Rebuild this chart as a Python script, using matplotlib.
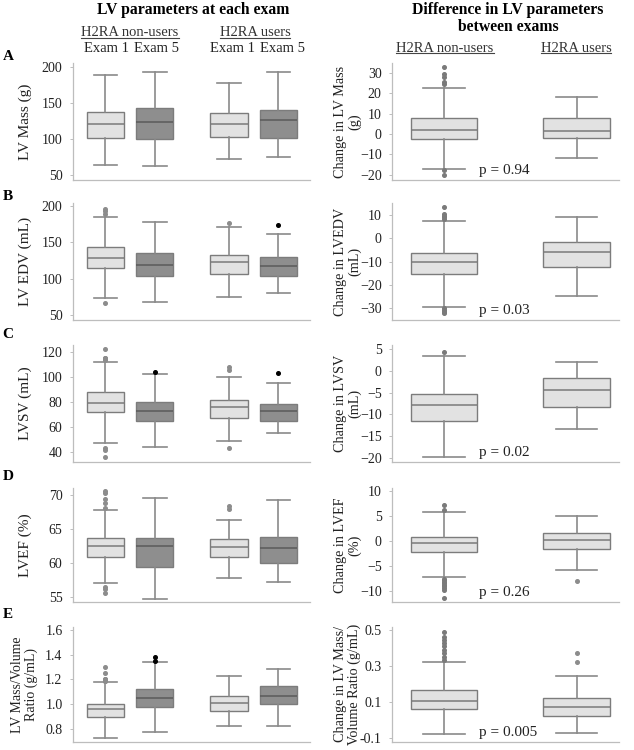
import matplotlib
matplotlib.use("Agg")
import matplotlib.pyplot as plt
from matplotlib.lines import Line2D

plt.rcParams['font.family'] = ['Liberation Serif', 'DejaVu Serif']

# ---- data ----
letters = ["A", "B", "C", "D", "E"]
left_ylabels = ["LV Mass (g)", "LV EDV (mL)", "LVSV (mL)", "LVEF (%)",
                "LV Mass/Volume\nRatio (g/mL)"]
right_ylabels = ["Change in LV Mass\n(g)", "Change in LVEDV\n(mL)",
                 "Change in LVSV\n(mL)", "Change in LVEF\n(%)",
                 "Change in LV Mass/\nVolume Ratio (g/mL)"]
p_values = ["p = 0.94", "p = 0.03", "p = 0.02", "p = 0.26", "p = 0.005"]

# left panels: non-users exam 1, non-users exam 5, users exam 1, users exam 5
massL_lo = [63, 62, 72, 75]
massL_q1 = [101, 100, 102, 101]
massL_med = [120, 123.5, 121, 125.5]
massL_q3 = [137.5, 143, 135, 140]
massL_hi = [189, 193, 177, 193]
massL_fl = [[], [], [], []]

edvL_lo = [74, 67.4, 75.2, 80.7]
edvL_q1 = [114.2, 103.7, 106.4, 103.7]
edvL_med = [128, 118.8, 123.4, 117.4]
edvL_q3 = [143.1, 134.9, 132.6, 130.3]
edvL_hi = [185.3, 177.5, 170.6, 161]
edvL_fl = [[195.4, 193.1, 188.5, 67], [], [176.1], [173.9]]

svL_lo = [46.7, 44, 48.3, 55.3]
svL_q1 = [71.6, 64.9, 67, 64.9]
svL_med = [79.3, 72.6, 75.6, 72.6]
svL_q3 = [87.9, 80.1, 81.5, 78.3]
svL_hi = [112.2, 102.6, 99.7, 94.9]
svL_fl = [[122.4, 115.5, 114.8, 114.4, 113.2, 42.6, 41.4, 35.7], [104.2],
          [108.2, 105.6, 43.2], [102.9]]

efL_lo = [57.1, 54.8, 57.8, 57.3]
efL_q1 = [61, 59.5, 60.9, 60]
efL_med = [62.5, 62.5, 62.4, 62.2]
efL_q3 = [63.8, 63.8, 63.6, 63.9]
efL_hi = [67.9, 69.6, 66.4, 69.3]
efL_fl = [[70.7, 70.3, 69.5, 68.9, 68.2, 56.5, 56.2, 55.6], [], [68.4, 68.0], []]

ratioL_lo = [0.73, 0.773, 0.824, 0.824]
ratioL_q1 = [0.894, 0.975, 0.945, 1.005]
ratioL_med = [0.959, 1.053, 1.007, 1.064]
ratioL_q3 = [1.002, 1.126, 1.067, 1.15]
ratioL_hi = [1.18, 1.344, 1.231, 1.282]
ratioL_fl = [[1.304, 1.25, 1.207, 1.2, 1.195, 1.19, 1.186], [1.385, 1.35], [], []]

# right panels: non-users, users
massR_lo = [-17.3, -11.7]
massR_q1 = [-2.5, -2.1]
massR_med = [2.1, 1.3]
massR_q3 = [7.9, 7.9]
massR_hi = [22.6, 18.2]
massR_fl = [[32.8, 29.2, 28.0, 25.6, 24.6, -17.6, -20.1], []]

edvR_lo = [-29.7, -24.8]
edvR_q1 = [-15.3, -12.2]
edvR_med = [-10.1, -6.0]
edvR_q3 = [-6.1, -1.4]
edvR_hi = [7.7, 9.4]
edvR_fl = [[13.7, 10.4, 9.9, 9.3, 8.6, -30.2, -30.7, -31.2, -31.7, -32.2], []]

svR_lo = [-19.9, -13.4]
svR_q1 = [-11.5, -8.2]
svR_med = [-7.8, -4.4]
svR_q3 = [-5.3, -1.7]
svR_hi = [3.5, 2.0]
svR_fl = [[4.4], []]

efR_lo = [-7.3, -5.8]
efR_q1 = [-2.2, -1.6]
efR_med = [-0.5, 0.1]
efR_q3 = [0.8, 1.6]
efR_hi = [5.8, 5.0]
efR_fl = [[7.1, 6.1, -7.6, -7.9, -8.2, -8.5, -8.8, -9.1, -9.5, -9.8, -11.5], [-8.0]]

ratioR_lo = [-0.08, -0.072]
ratioR_q1 = [0.06, 0.019]
ratioR_med = [0.106, 0.073]
ratioR_q3 = [0.164, 0.123]
ratioR_hi = [0.322, 0.245]
ratioR_fl = [[0.491, 0.463, 0.444, 0.426, 0.41, 0.39, 0.37, 0.35, 0.335], [0.37, 0.32]]

left_data = [
    (massL_lo, massL_q1, massL_med, massL_q3, massL_hi, massL_fl),
    (edvL_lo, edvL_q1, edvL_med, edvL_q3, edvL_hi, edvL_fl),
    (svL_lo, svL_q1, svL_med, svL_q3, svL_hi, svL_fl),
    (efL_lo, efL_q1, efL_med, efL_q3, efL_hi, efL_fl),
    (ratioL_lo, ratioL_q1, ratioL_med, ratioL_q3, ratioL_hi, ratioL_fl),
]
right_data = [
    (massR_lo, massR_q1, massR_med, massR_q3, massR_hi, massR_fl),
    (edvR_lo, edvR_q1, edvR_med, edvR_q3, edvR_hi, edvR_fl),
    (svR_lo, svR_q1, svR_med, svR_q3, svR_hi, svR_fl),
    (efR_lo, efR_q1, efR_med, efR_q3, efR_hi, efR_fl),
    (ratioR_lo, ratioR_q1, ratioR_med, ratioR_q3, ratioR_hi, ratioR_fl),
]

left_yticks = [[50, 100, 150, 200], [50, 100, 150, 200], [40, 60, 80, 100, 120],
               [55, 60, 65, 70], [0.8, 1.0, 1.2, 1.4, 1.6]]
right_yticks = [[-20, -10, 0, 10, 20, 30], [-30, -20, -10, 0, 10],
                [-20, -15, -10, -5, 0, 5], [-10, -5, 0, 5, 10], [-0.1, 0.1, 0.3, 0.5]]
left_ylims = [(42.6, 205), (43.1, 204.1), (31.7, 125.6), (54.3, 71.1), (0.695, 1.624)]
right_ylims = [(-22.6, 34.8), (-35.2, 15.3), (-21, 6), (-12.2, 10.5), (-0.124, 0.517)]

# ---- layout (pixels of a 634x750 figure) ----
W, H = 634, 750
row_top = [63, 203, 345, 488, 627]
row_bot = [180, 320, 462, 602, 742]
letter_y = [57, 197, 335, 477, 615]

LIGHT = "#e2e2e2"
DARK = "#8e8e8e"
EDGE = "#7c7c7c"
SPINE = "#bdbdbd"


def make_stats(lo, q1, med, q3, hi, fl):
    return [dict(whislo=lo[i], q1=q1[i], med=med[i], q3=q3[i], whishi=hi[i],
                 fliers=fl[i]) for i in range(len(med))]


def draw_boxes(ax, stats, pos, width, fills, flier_cols):
    for s, p, fc, flc in zip(stats, pos, fills, flier_cols):
        medc = "#5a5a5a" if fc == DARK else "#7a7a7a"
        ax.bxp([s], positions=[p], widths=width, capwidths=width * 0.63,
               patch_artist=True, manage_ticks=False,
               boxprops=dict(facecolor=fc, edgecolor=EDGE, linewidth=1.0),
               medianprops=dict(color=medc, linewidth=1.1),
               whiskerprops=dict(color="#8a8a8a", linewidth=1.2),
               capprops=dict(color="#8a8a8a", linewidth=1.2),
               flierprops=dict(marker="o", markersize=2.6, markerfacecolor=flc,
                               markeredgecolor=flc, linestyle="none"))


def style_axes(ax, yticks, ylim, fmt=None):
    ax.set_ylim(*ylim)
    ax.set_yticks(yticks)
    if fmt:
        ax.set_yticklabels([fmt % v for v in yticks])
    ax.set_xticks([])
    for side in ["top", "right"]:
        ax.spines[side].set_visible(False)
    for side in ["left", "bottom"]:
        ax.spines[side].set_color(SPINE)
        ax.spines[side].set_linewidth(0.9)
    ax.tick_params(axis="y", length=2.5, width=0.7, color=SPINE,
                   labelsize=10, labelcolor="#222222", pad=5)


fig = plt.figure(figsize=(W / 100, H / 100), dpi=100)

for r in range(5):
    y0 = (H - row_bot[r]) / H
    h = (row_bot[r] - row_top[r]) / H

    axl = fig.add_axes([73 / W, y0, 237 / W, h])
    draw_boxes(axl, make_stats(*left_data[r]), [1, 2, 3.5, 4.5], 0.75,
               [LIGHT, DARK, LIGHT, DARK],
               ["#8c8c8c", "black", "#8c8c8c", "black"])
    axl.set_xlim(0.343, 5.14)
    style_axes(axl, left_yticks[r], left_ylims[r], "%.1f" if r == 4 else None)
    axl.set_ylabel(left_ylabels[r], fontsize=10 if r == 4 else 11,
                   color="#222222", linespacing=1.0)
    axl.yaxis.set_label_coords(-0.148 if r == 4 else -0.173, 0.5)

    axr = fig.add_axes([392 / W, y0, 227 / W, h])
    draw_boxes(axr, make_stats(*right_data[r]), [1, 2], 0.5,
               [LIGHT, LIGHT], ["#7a7a7a", "#8c8c8c"])
    axr.set_xlim(0.61, 2.32)
    style_axes(axr, right_yticks[r], right_ylims[r], "%.1f" if r == 4 else None)
    axr.set_ylabel(right_ylabels[r], fontsize=10.2, color="#222222", linespacing=1.0)
    axr.yaxis.set_label_coords(-0.137, 0.5)
    axr.text(0.385, 0.085, p_values[r], transform=axr.transAxes, fontsize=11,
             ha="left", va="center", color="#222222")

    fig.text(8 / W, 1 - letter_y[r] / H, letters[r], fontsize=11, fontweight="bold",
             ha="center", va="center")

# ---- headers ----
fig.text(193 / W, 1 - 10 / H, "LV parameters at each exam", fontsize=11.3,
         fontweight="bold", ha="center", va="center")
fig.text(508 / W, 1 - 10 / H, "Difference in LV parameters", fontsize=11.3,
         fontweight="bold", ha="center", va="center")
fig.text(508 / W, 1 - 27 / H, "between exams", fontsize=11.3,
         fontweight="bold", ha="center", va="center")

underlined = [
    fig.text(130 / W, 1 - 33 / H, "H2RA non-users", fontsize=10.5, ha="center", va="center", color="#333333"),
    fig.text(255 / W, 1 - 33 / H, "H2RA users", fontsize=10.5, ha="center", va="center", color="#333333"),
    fig.text(445 / W, 1 - 48 / H, "H2RA non-users", fontsize=10.5, ha="center", va="center", color="#333333"),
    fig.text(576 / W, 1 - 48 / H, "H2RA users", fontsize=10.5, ha="center", va="center", color="#333333"),
]
for x, lab in zip([107, 157, 232, 282], ["Exam 1", "Exam 5", "Exam 1", "Exam 5"]):
    fig.text(x / W, 1 - 49 / H, lab, fontsize=10.5, ha="center", va="center", color="#222222")

fig.canvas.draw()
inv = fig.transFigure.inverted()
for t in underlined:
    bb = t.get_window_extent()
    (x0, yb), (x1, _) = inv.transform([(bb.x0, bb.y0 + 1.5), (bb.x1, bb.y0)])
    fig.add_artist(Line2D([x0, x1], [yb, yb], transform=fig.transFigure,
                          color="#444444", linewidth=0.8))

fig.savefig("out.png", dpi=100)
